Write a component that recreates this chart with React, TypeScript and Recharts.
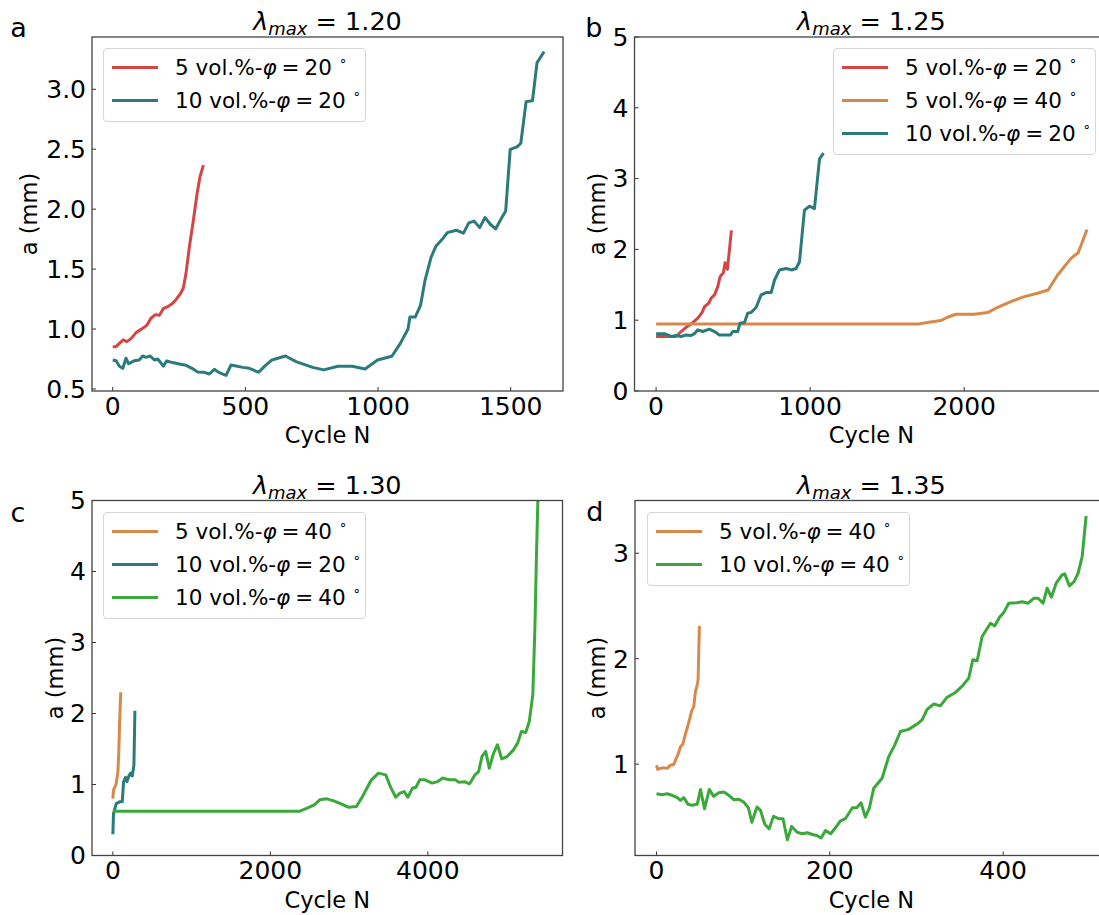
import React from 'react';
import { LineChart, Line, XAxis, YAxis, Legend } from 'recharts';

const FONT = '"DejaVu Sans", Verdana, sans-serif';
const RED = '#d64545';
const ORANGE = '#d8894a';
const TEAL = '#2b7b7b';
const GREEN = '#3aa83a';

// ---- panel a (lambda_max = 1.20) ----
const a_xTicks = [0, 500, 1000, 1500];
const a_yTicks = [0.5, 1.0, 1.5, 2.0, 2.5, 3.0];
const a_5v20_N = [0, 13, 25, 40, 53, 69, 88, 107, 128, 144, 161, 176, 191, 207, 224, 239, 254, 266, 276, 289, 304, 318, 329, 342];
const a_5v20_A = [0.853, 0.853, 0.88, 0.91, 0.895, 0.92, 0.97, 0.997, 1.03, 1.09, 1.12, 1.115, 1.17, 1.186, 1.21, 1.247, 1.29, 1.34, 1.46, 1.686, 1.908, 2.13, 2.27, 2.367];
const a_10v20_N = [0, 13, 25, 38, 50, 60, 82, 100, 113, 126, 141, 157, 170, 191, 203, 226, 251, 276, 299, 320, 345, 364, 383, 402, 427, 446, 465, 490, 515, 550, 571, 600, 651, 691, 754, 795, 849, 903, 951, 998, 1052, 1083, 1113, 1120, 1140, 1160, 1177, 1200, 1218, 1241, 1261, 1295, 1322, 1342, 1362, 1383, 1403, 1423, 1443, 1464, 1481, 1498, 1524, 1538, 1558, 1582, 1599, 1626];
const a_10v20_A = [0.742, 0.736, 0.69, 0.672, 0.756, 0.71, 0.736, 0.742, 0.775, 0.764, 0.775, 0.742, 0.75, 0.69, 0.733, 0.72, 0.708, 0.697, 0.672, 0.642, 0.639, 0.625, 0.664, 0.636, 0.614, 0.7, 0.692, 0.68, 0.672, 0.639, 0.686, 0.742, 0.775, 0.728, 0.68, 0.659, 0.69, 0.69, 0.667, 0.742, 0.773, 0.876, 1.0, 1.1, 1.1, 1.197, 1.406, 1.6, 1.69, 1.746, 1.804, 1.824, 1.8, 1.885, 1.9, 1.846, 1.93, 1.874, 1.835, 1.92, 1.985, 2.498, 2.52, 2.55, 2.897, 2.905, 3.22, 3.315];

// ---- panel b (lambda_max = 1.25) ----
const b_xTicks = [0, 1000, 2000];
const b_yTicks = [0, 1, 2, 3, 4, 5];
const b_5v20_N = [0, 65, 130, 162, 195, 234, 271, 299, 314, 342, 357, 379, 400, 416, 437, 448, 463, 476, 489];
const b_5v20_A = [0.77, 0.77, 0.77, 0.84, 0.9, 0.958, 1.03, 1.11, 1.19, 1.24, 1.31, 1.357, 1.47, 1.615, 1.67, 1.81, 1.72, 1.99, 2.27];
const b_5v40_N = [0, 1708, 1762, 1848, 1892, 1946, 2065, 2152, 2206, 2303, 2390, 2476, 2545, 2606, 2693, 2740, 2797];
const b_5v40_A = [0.948, 0.948, 0.967, 0.995, 1.042, 1.084, 1.084, 1.108, 1.169, 1.263, 1.333, 1.38, 1.427, 1.638, 1.873, 1.953, 2.28];
const b_10v20_N = [0, 54, 97, 130, 162, 195, 227, 249, 271, 303, 346, 379, 411, 455, 481, 498, 530, 545, 574, 595, 617, 649, 682, 714, 747, 769, 801, 844, 883, 909, 931, 963, 996, 1028, 1061, 1087];
const b_10v20_A = [0.81, 0.81, 0.77, 0.784, 0.77, 0.79, 0.784, 0.81, 0.864, 0.84, 0.873, 0.84, 0.79, 0.79, 0.79, 0.84, 0.84, 0.958, 0.967, 1.1, 1.108, 1.18, 1.357, 1.39, 1.39, 1.568, 1.71, 1.73, 1.71, 1.73, 1.826, 2.554, 2.61, 2.577, 3.28, 3.36];

// ---- panel c (lambda_max = 1.30) ----
const c_xTicks = [0, 2000, 4000];
const c_yTicks = [0, 1, 2, 3, 4, 5];
const c_5v40_N = [0, 8, 42, 64, 76, 85, 100];
const c_5v40_A = [0.8, 0.92, 1.01, 1.18, 1.48, 1.86, 2.3];
const c_10v20_N = [0, 8, 21, 42, 85, 119, 136, 161, 178, 203, 225, 246, 267, 280];
const c_10v20_A = [0.3, 0.59, 0.64, 0.73, 0.756, 0.756, 1.04, 1.1, 1.04, 1.12, 1.16, 1.12, 1.27, 2.04];
const c_10v40_N = [0, 2376, 2467, 2558, 2626, 2716, 2807, 2898, 2989, 3093, 3170, 3283, 3374, 3465, 3533, 3592, 3646, 3700, 3746, 3805, 3850, 3896, 3964, 4054, 4122, 4190, 4272, 4349, 4395, 4463, 4531, 4599, 4644, 4689, 4735, 4780, 4834, 4884, 4939, 5007, 5088, 5143, 5188, 5243, 5288, 5333, 5360, 5378, 5397, 5410];
const c_10v40_A = [0.625, 0.625, 0.667, 0.714, 0.784, 0.798, 0.77, 0.728, 0.68, 0.69, 0.83, 1.066, 1.16, 1.136, 0.948, 0.82, 0.878, 0.9, 0.82, 0.948, 0.962, 1.066, 1.066, 1.02, 1.04, 1.09, 1.066, 1.066, 1.03, 1.04, 1.01, 1.136, 1.18, 1.4, 1.465, 1.23, 1.44, 1.56, 1.36, 1.394, 1.488, 1.59, 1.746, 1.732, 1.887, 2.263, 3.225, 4.164, 5.0, 5.8];

// ---- panel d (lambda_max = 1.35) ----
const d_xTicks = [0, 200, 400];
const d_yTicks = [1, 2, 3];
const d_5v40_N = [0, 1.5, 4.6, 8.5, 12.3, 16, 20, 22, 25, 27.7, 30.4, 33.5, 35.4, 38, 40.4, 43, 45, 47, 48, 49.5];
const d_5v40_A = [0.99, 0.95, 0.96, 0.965, 0.96, 0.99, 0.997, 1.04, 1.095, 1.165, 1.19, 1.29, 1.34, 1.42, 1.5, 1.546, 1.69, 1.75, 1.8, 2.31];
const d_10v40_N = [0, 6.5, 12.3, 18, 24, 27.7, 31.5, 36.5, 41, 47, 50.8, 55.4, 61, 66, 72, 77.7, 83.5, 89, 95, 100.8, 106, 110, 116, 120, 125, 130, 135, 141, 146, 151, 156, 162, 168, 174, 180, 185, 190, 195, 201, 206.5, 212, 218, 226, 231, 236, 241, 245.6, 250.7, 260.3, 268, 275, 281.5, 291, 300.7, 306.5, 312.3, 320, 327.6, 335.4, 345, 352.7, 360.3, 365, 370, 375.8, 385.4, 390.3, 395.7, 400.7, 406.5, 416, 422, 428.9, 435.3, 440.4, 446.1, 450.8, 455.7, 461.2, 468, 471.1, 476.5, 481.9, 486.5, 491.2, 495.8];
const d_10v40_A = [0.72, 0.71, 0.72, 0.705, 0.683, 0.657, 0.683, 0.619, 0.61, 0.619, 0.76, 0.578, 0.76, 0.695, 0.73, 0.737, 0.705, 0.663, 0.667, 0.64, 0.587, 0.45, 0.594, 0.562, 0.43, 0.387, 0.505, 0.483, 0.483, 0.283, 0.41, 0.356, 0.34, 0.35, 0.333, 0.324, 0.3, 0.37, 0.34, 0.397, 0.46, 0.483, 0.587, 0.587, 0.634, 0.498, 0.583, 0.772, 0.867, 1.072, 1.183, 1.31, 1.33, 1.38, 1.42, 1.52, 1.57, 1.553, 1.635, 1.68, 1.74, 1.815, 1.99, 1.98, 2.21, 2.336, 2.31, 2.39, 2.437, 2.526, 2.53, 2.54, 2.526, 2.573, 2.573, 2.526, 2.668, 2.583, 2.716, 2.794, 2.804, 2.69, 2.731, 2.81, 2.968, 3.353];

type Pt = { n: number; a: number };
const zip = (n: number[], a: number[]): Pt[] => n.map((v, i) => ({ n: v, a: a[i] }));

interface Series { vol: number; phi: number; color: string; data: Pt[] }

const X_AXIS_H = 40;
const LEGEND_W = 263;

const panels = [
  {
    id: 'a', lam: '1.20',
    box: { left: 0, top: 0, width: 580, height: 450 },
    plot: { x0: 92, x1: 563, y0: 37, y1: 391 },
    xDomain: [-78, 1697], xTicks: a_xTicks,
    yDomain: [0.483, 3.436], yTicks: a_yTicks, yFmt: (v: number) => v.toFixed(1),
    legend: { left: 103, top: 48 },
    yLabelX: 29, letter: { x: 18.6, y: 36.7 },
    series: [
      { vol: 5, phi: 20, color: RED, data: zip(a_5v20_N, a_5v20_A) },
      { vol: 10, phi: 20, color: TEAL, data: zip(a_10v20_N, a_10v20_A) },
    ] as Series[],
  },
  {
    id: 'b', lam: '1.25',
    box: { left: 560, top: 0, width: 560, height: 450 },
    plot: { x0: 634.5, x1: 1108.4, y0: 37, y1: 391 },
    xDomain: [-140, 2936], xTicks: b_xTicks,
    yDomain: [0, 5], yTicks: b_yTicks, yFmt: (v: number) => String(v),
    legend: { left: 833, top: 48 },
    yLabelX: 597, letter: { x: 593.8, y: 36.7 },
    series: [
      { vol: 5, phi: 20, color: RED, data: zip(b_5v20_N, b_5v20_A) },
      { vol: 5, phi: 40, color: ORANGE, data: zip(b_5v40_N, b_5v40_A) },
      { vol: 10, phi: 20, color: TEAL, data: zip(b_10v20_N, b_10v20_A) },
    ] as Series[],
  },
  {
    id: 'c', lam: '1.30',
    box: { left: 0, top: 460, width: 580, height: 455 },
    plot: { x0: 92, x1: 562.5, y0: 500.5, y1: 855.5 },
    xDomain: [-265, 5710], xTicks: c_xTicks,
    yDomain: [0, 5], yTicks: c_yTicks, yFmt: (v: number) => String(v),
    legend: { left: 103, top: 512 },
    yLabelX: 55, letter: { x: 18, y: 521.5 },
    series: [
      { vol: 5, phi: 40, color: ORANGE, data: zip(c_5v40_N, c_5v40_A) },
      { vol: 10, phi: 20, color: TEAL, data: zip(c_10v20_N, c_10v20_A) },
      { vol: 10, phi: 40, color: GREEN, data: zip(c_10v40_N, c_10v40_A) },
    ] as Series[],
  },
  {
    id: 'd', lam: '1.35',
    box: { left: 560, top: 460, width: 560, height: 455 },
    plot: { x0: 635, x1: 1107.8, y0: 500.5, y1: 855.5 },
    xDomain: [-24.8, 520.8], xTicks: d_xTicks,
    yDomain: [0.134, 3.5], yTicks: d_yTicks, yFmt: (v: number) => String(v),
    legend: { left: 647, top: 512 },
    yLabelX: 597, letter: { x: 594.8, y: 520.7 },
    series: [
      { vol: 5, phi: 40, color: ORANGE, data: zip(d_5v40_N, d_5v40_A) },
      { vol: 10, phi: 40, color: GREEN, data: zip(d_10v40_N, d_10v40_A) },
    ] as Series[],
  },
];

const LegendBox = ({ series }: { series: Series[] }) => (
  <div
    style={{
      width: LEGEND_W,
      boxSizing: 'border-box',
      border: '1px solid #d6d6d6',
      borderRadius: 4,
      background: 'rgba(255,255,255,0.8)',
      padding: '2px 0 4px 0',
      fontFamily: FONT,
      fontSize: 21.5,
      color: '#000',
    }}
  >
    {series.map((s) => (
      <div key={`${s.vol}-${s.phi}`} style={{ height: 33, display: 'flex', alignItems: 'center', whiteSpace: 'nowrap' }}>
        <span style={{ display: 'inline-block', width: 46, height: 3, background: s.color, marginLeft: 7.5, marginRight: 17.5 }} />
        <span>
          {s.vol} vol.%-<i>φ</i>
          <span style={{ margin: '0 5px' }}>=</span>
          {s.phi}
          <span style={{ fontSize: '0.6em', position: 'relative', top: '-0.8em', marginLeft: 7 }}>∘</span>
        </span>
      </div>
    ))}
  </div>
);

const tickStyle = { fontSize: 25, fill: '#000', fontFamily: FONT };

const App: React.FC = () => {
  return (
    <div style={{ position: 'absolute', left: 0, top: 0, width: 1099, height: 915, overflow: 'hidden', background: '#fff' }}>
      {panels.map((p) => {
        const margin = {
          top: p.plot.y0 - p.box.top,
          right: p.box.left + p.box.width - p.plot.x1,
          bottom: p.box.top + p.box.height - p.plot.y1 - X_AXIS_H,
          left: 0,
        };
        return (
          <div key={p.id} style={{ position: 'absolute', left: p.box.left, top: p.box.top }}>
            <LineChart width={p.box.width} height={p.box.height} margin={margin}>
              <XAxis
                type="number"
                dataKey="n"
                domain={p.xDomain}
                ticks={p.xTicks}
                interval={0}
                allowDataOverflow
                height={X_AXIS_H}
                axisLine={false}
                tickLine={{ stroke: '#333' }}
                tickSize={-4}
                tickMargin={10}
                tick={tickStyle}
              />
              <YAxis
                type="number"
                domain={p.yDomain}
                ticks={p.yTicks}
                interval={0}
                allowDataOverflow
                width={p.plot.x0 - p.box.left}
                axisLine={false}
                tickLine={{ stroke: '#333' }}
                tickSize={-4}
                tickMargin={10}
                tick={tickStyle}
                tickFormatter={p.yFmt}
              />
              {p.series.map((s) => (
                <Line
                  key={`${s.vol}-${s.phi}`}
                  data={s.data}
                  dataKey="a"
                  name={`${s.vol} vol.%-φ = ${s.phi}°`}
                  type="linear"
                  stroke={s.color}
                  strokeWidth={3}
                  strokeLinejoin="round"
                  dot={false}
                  activeDot={false}
                  isAnimationActive={false}
                />
              ))}
              <Legend
                layout="vertical"
                align="center"
                verticalAlign="middle"
                wrapperStyle={{ left: p.legend.left - p.box.left, top: p.legend.top - p.box.top, width: LEGEND_W, height: 'auto' }}
                content={() => <LegendBox series={p.series} />}
              />
            </LineChart>
          </div>
        );
      })}
      <svg width={1099} height={915} style={{ position: 'absolute', left: 0, top: 0, pointerEvents: 'none' }} fontFamily={FONT}>
        {panels.map((p) => {
          const cx = (p.plot.x0 + p.plot.x1) / 2;
          const cy = (p.plot.y0 + p.plot.y1) / 2;
          return (
            <g key={p.id}>
              <rect x={p.plot.x0} y={p.plot.y0} width={p.plot.x1 - p.plot.x0} height={p.plot.y1 - p.plot.y0} fill="none" stroke="#444" strokeWidth={1.3} />
              <text x={p.letter.x} y={p.letter.y} textAnchor="middle" fontSize={27} fill="#000">{p.id}</text>
              <text x={cx} y={p.plot.y0 - 7} textAnchor="middle" fontSize={25.5} fill="#000">
                <tspan fontStyle="italic">λ</tspan>
                <tspan fontStyle="italic" fontSize={18} dy={5}>max</tspan>
                <tspan dy={-5}>{' = ' + p.lam}</tspan>
              </text>
              <text x={cx} y={p.plot.y1 + 52} textAnchor="middle" fontSize={22.5} fill="#000">Cycle N</text>
              <text transform={`translate(${p.yLabelX} ${cy}) rotate(-90)`} textAnchor="middle" dy="0.35em" fontSize={22.5} fill="#000">a (mm)</text>
            </g>
          );
        })}
      </svg>
    </div>
  );
};

export default App;
